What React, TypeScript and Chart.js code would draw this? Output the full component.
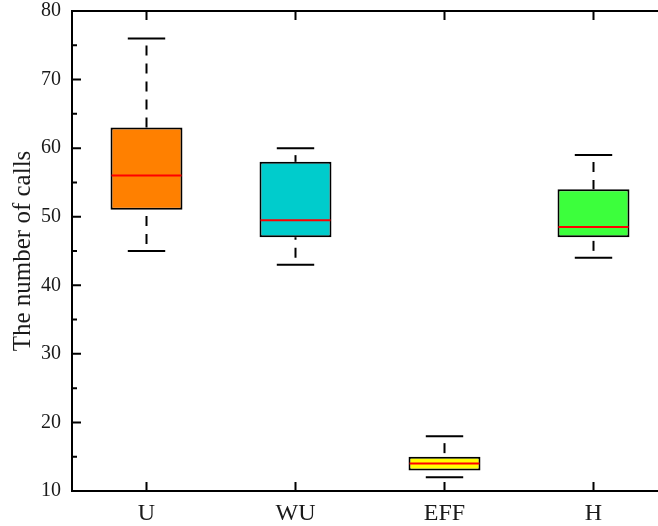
import React, { useEffect, useRef } from "react";
import { Chart, registerables } from "chart.js";

Chart.register(...registerables);

const categories = ["U", "WU", "EFF", "H"];
const whiskerLow = [45, 43, 12, 44];
const quartile1 = [51, 47, 13, 47];
const medians = [56, 49.5, 14, 48.5];
const quartile3 = [63, 58, 15, 54];
const whiskerHigh = [76, 60, 18, 59];
const boxColors = ["#FF8000", "#00CCCC", "#FFFF00", "#3CFF3C"];
const yTicks = [10, 20, 30, 40, 50, 60, 70, 80];

const FONT = "'Liberation Serif', 'DejaVu Serif', serif";

const boxPlugin = {
  id: "boxExtras",
  afterDatasetsDraw(chart: any) {
    const ctx = chart.ctx;
    const y = chart.scales.y;
    const meta = chart.getDatasetMeta(0);
    ctx.save();
    meta.data.forEach((bar: any, i: number) => {
      const cx = bar.x;
      const half = bar.width / 2;
      const capHalf = half * 0.52;
      const yq1 = y.getPixelForValue(quartile1[i]);
      const yq3 = y.getPixelForValue(quartile3[i]);
      const ylo = y.getPixelForValue(whiskerLow[i]);
      const yhi = y.getPixelForValue(whiskerHigh[i]);
      const ymed = y.getPixelForValue(medians[i]);
      ctx.strokeStyle = "#000";
      ctx.lineWidth = 2;
      ctx.setLineDash([10, 8]);
      ctx.lineDashOffset = 11;
      ctx.beginPath();
      ctx.moveTo(cx, yhi);
      ctx.lineTo(cx, yq3);
      ctx.stroke();
      ctx.beginPath();
      ctx.moveTo(cx, ylo);
      ctx.lineTo(cx, yq1);
      ctx.stroke();
      ctx.setLineDash([]);
      ctx.beginPath();
      ctx.moveTo(cx - capHalf, yhi);
      ctx.lineTo(cx + capHalf, yhi);
      ctx.moveTo(cx - capHalf, ylo);
      ctx.lineTo(cx + capHalf, ylo);
      ctx.stroke();
      ctx.strokeStyle = "#FF0000";
      ctx.lineWidth = 2;
      ctx.beginPath();
      ctx.moveTo(cx - half + 1, ymed);
      ctx.lineTo(cx + half - 1, ymed);
      ctx.stroke();
    });
    ctx.restore();
  },
  afterDraw(chart: any) {
    const ctx = chart.ctx;
    const area = chart.chartArea;
    const x = chart.scales.x;
    const y = chart.scales.y;
    ctx.save();
    ctx.strokeStyle = "#000";
    ctx.lineWidth = 2;
    ctx.beginPath();
    ctx.moveTo(area.left - 1, area.top);
    ctx.lineTo(area.right + 2, area.top);
    ctx.stroke();
    ctx.beginPath();
    for (let v = 10; v <= 80; v += 5) {
      const py = y.getPixelForValue(v);
      const len = v % 10 === 0 ? 9 : 5;
      ctx.moveTo(area.left, py);
      ctx.lineTo(area.left + len, py);
    }
    categories.forEach((_, i) => {
      const px = x.getPixelForValue(i);
      ctx.moveTo(px, area.bottom);
      ctx.lineTo(px, area.bottom - 9);
      ctx.moveTo(px, area.top);
      ctx.lineTo(px, area.top + 9);
    });
    ctx.stroke();
    ctx.restore();
  },
};

export default function App() {
  const ref = useRef<HTMLCanvasElement | null>(null);
  useEffect(() => {
    if (!ref.current) return;
    const chart = new Chart(ref.current, {
      type: "bar",
      data: {
        labels: categories,
        datasets: [
          {
            data: categories.map((_, i) => [quartile1[i], quartile3[i]]) as any,
            backgroundColor: boxColors,
            borderColor: "#000",
            borderWidth: 2,
            borderSkipped: false,
            barPercentage: 0.483,
            categoryPercentage: 1,
          },
        ],
      },
      options: {
        animation: false,
        responsive: false,
        devicePixelRatio: 1,
        layout: { padding: { top: 11, right: 2, left: 0, bottom: 0 } },
        plugins: { legend: { display: false }, tooltip: { enabled: false } },
        scales: {
          x: {
            offset: true,
            grid: { display: false, drawTicks: false },
            border: { display: true, color: "#000", width: 2 },
            ticks: { color: "#1a1a1a", font: { family: FONT, size: 24 }, padding: 8 },
            afterFit: (s: any) => {
              s.height = 35;
              s.paddingLeft = 0;
              s.paddingRight = 0;
            },
          },
          y: {
            min: 10,
            max: 80,
            afterBuildTicks: (s: any) => {
              s.ticks = yTicks.map((v) => ({ value: v }));
            },
            grid: { display: false, drawTicks: false },
            border: { display: true, color: "#000", width: 2 },
            ticks: { color: "#1a1a1a", font: { family: FONT, size: 20 }, padding: 11 },
            title: {
              display: true,
              text: "The number of calls",
              color: "#1a1a1a",
              font: { family: FONT, size: 25 },
              padding: { top: 8, bottom: 0 },
            },
            afterFit: (s: any) => {
              s.width = 72;
              s.paddingTop = 0;
              s.paddingBottom = 0;
            },
          },
        },
      },
      plugins: [boxPlugin],
    });
    return () => chart.destroy();
  }, []);
  return (
    <div
      style={{
        position: "fixed",
        left: 0,
        top: 0,
        width: 658,
        height: 526,
        overflow: "hidden",
        background: "#fff",
      }}
    >
      <canvas ref={ref} width={670} height={526} style={{ width: 670, height: 526, display: "block" }} />
    </div>
  );
}
